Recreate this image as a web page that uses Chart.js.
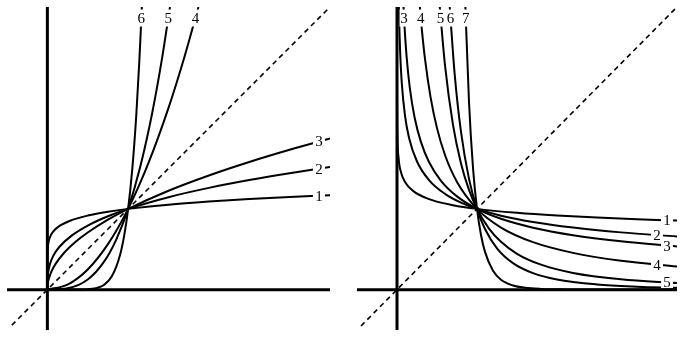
<!DOCTYPE html>
<html>
<head>
<meta charset="utf-8">
<script src="https://cdn.jsdelivr.net/npm/chart.js@4/dist/chart.umd.min.js"></script>
<style>
  body { margin: 0; background: #fff; }
  .panel { position: absolute; top: 0; width: 344px; height: 341px; }
  #left-wrap { left: 0; }
  #right-wrap { left: 344px; }
</style>
</head>
<body>
<div class="panel" id="left-wrap"><canvas id="leftChart" width="344" height="341"></canvas></div>
<div class="panel" id="right-wrap"><canvas id="rightChart" width="344" height="341"></canvas></div>
<script>
"use strict";

// ---- left panel: increasing curves through (1,1) ----
const left1X = [0, 0.0001, 0.002, 0.01, 0.03, 0.08, 0.15, 0.3, 0.5, 0.75, 1, 1.5, 2, 2.5, 3, 3.5];
const left1Y = [0, 0.316, 0.46, 0.562, 0.645, 0.729, 0.789, 0.86, 0.917, 0.965, 1, 1.052, 1.09, 1.121, 1.147, 1.17];
const left2X = [0, 0.001, 0.008, 0.03, 0.08, 0.15, 0.3, 0.5, 0.75, 1, 1.5, 2, 2.5, 3, 3.5];
const left2Y = [0, 0.1, 0.2, 0.311, 0.431, 0.531, 0.669, 0.794, 0.909, 1, 1.145, 1.26, 1.357, 1.442, 1.518];
const left3X = [0, 0.005, 0.02, 0.05, 0.1, 0.2, 0.35, 0.5, 0.75, 1, 1.5, 2, 2.5, 3, 3.5];
const left3Y = [0, 0.071, 0.141, 0.224, 0.316, 0.447, 0.592, 0.707, 0.866, 1, 1.225, 1.414, 1.581, 1.732, 1.871];
const left4X = [0, 0.25, 0.5, 0.75, 1, 1.25, 1.5, 1.7, 1.871];
const left4Y = [0, 0.063, 0.25, 0.563, 1, 1.563, 2.25, 2.89, 3.5];
const left5X = [0, 0.25, 0.5, 0.7, 0.85, 1, 1.15, 1.3, 1.42, 1.518];
const left5Y = [0, 0.016, 0.125, 0.343, 0.614, 1, 1.521, 2.197, 2.863, 3.5];
const left6X = [0, 0.3, 0.5, 0.6, 0.7, 0.8, 0.9, 0.95, 1, 1.05, 1.1, 1.14, 1.17];
const left6Y = [0, 0.0001, 0.004, 0.017, 0.058, 0.168, 0.43, 0.663, 1, 1.477, 2.144, 2.852, 3.5];

// ---- right panel: decreasing curves through (1,1) ----
const right1X = [0.000044, 0.0002, 0.001, 0.005, 0.02, 0.05, 0.1, 0.2, 0.4, 0.7, 1, 1.5, 2, 2.5, 3, 3.5];
const right1Y = [3.5, 2.9, 2.371, 1.939, 1.631, 1.454, 1.334, 1.223, 1.121, 1.046, 1, 0.951, 0.917, 0.892, 0.872, 0.855];
const right2X = [0.0233, 0.03, 0.04, 0.06, 0.1, 0.15, 0.25, 0.4, 0.6, 0.8, 1, 1.3, 1.7, 2.2, 2.8, 3.5];
const right2Y = [3.5, 3.218, 2.924, 2.554, 2.154, 1.882, 1.587, 1.357, 1.186, 1.077, 1, 0.916, 0.838, 0.769, 0.709, 0.659];
const right3X = [0.0816, 0.095, 0.12, 0.16, 0.22, 0.3, 0.4, 0.55, 0.75, 1, 1.3, 1.7, 2.2, 2.8, 3.5];
const right3Y = [3.5, 3.244, 2.887, 2.5, 2.132, 1.826, 1.581, 1.348, 1.155, 1, 0.877, 0.767, 0.674, 0.598, 0.535];
const right4X = [0.2857, 0.31, 0.35, 0.42, 0.5, 0.6, 0.75, 1, 1.3, 1.7, 2.2, 2.8, 3.5];
const right4Y = [3.5, 3.226, 2.857, 2.381, 2, 1.667, 1.333, 1, 0.769, 0.588, 0.455, 0.357, 0.286];
const right5X = [0.5345, 0.6, 0.7, 0.8, 0.9, 1, 1.15, 1.3, 1.5, 1.8, 2.2, 2.8, 3.5];
const right5Y = [3.5, 2.778, 2.041, 1.563, 1.235, 1, 0.756, 0.592, 0.444, 0.309, 0.207, 0.128, 0.082];
const right6X = [0.659, 0.72, 0.8, 0.9, 1, 1.1, 1.25, 1.45, 1.7, 2, 2.5, 3, 3.5];
const right6Y = [3.5, 2.679, 1.953, 1.372, 1, 0.751, 0.512, 0.328, 0.204, 0.125, 0.064, 0.037, 0.023];
const right7X = [0.855, 0.9, 0.95, 1, 1.05, 1.1, 1.2, 1.3, 1.45, 1.6, 1.8, 2.1, 2.5, 3.5];
const right7Y = [3.5, 2.323, 1.507, 1, 0.677, 0.467, 0.233, 0.123, 0.051, 0.023, 0.009, 0.003, 0.001, 0];

// y = x reference lines
const leftDiag = [-0.44, 3.5];
const rightDiag = [-0.45, 3.5];

// curve labels: text, x, y (data units)
const leftTopLabels = [["6", 1.163, 3.363], ["5", 1.498, 3.363], ["4", 1.834, 3.363]];
const leftSideLabels = [["1", 3.363, 1.164], ["2", 3.363, 1.498], ["3", 3.363, 1.834]];
const rightTopLabels = [["3", 0.0884, 3.363], ["4", 0.2974, 3.363], ["5", 0.5453, 3.363], ["6", 0.6675, 3.363], ["7", 0.8593, 3.363]];
const rightSideLabels = [["1", 3.375, 0.859], ["2", 3.25, 0.675], ["3", 3.375, 0.544], ["4", 3.25, 0.308], ["5", 3.375, 0.088]];

function zip(xs, ys) {
    return xs.map((x, i) => ({ x: x, y: ys[i] }));
}

function curve(xs, ys) {
    return {
        data: zip(xs, ys),
        borderColor: "#000",
        borderWidth: 2,
        pointRadius: 0,
        cubicInterpolationMode: "monotone",
        fill: false
    };
}

function axisLines() {
    return [{
        data: [{ x: -0.5, y: 0 }, { x: 3.5, y: 0 }],
        borderColor: "#000", borderWidth: 3, pointRadius: 0
    }, {
        data: [{ x: 0, y: -0.5 }, { x: 0, y: 3.5 }],
        borderColor: "#000", borderWidth: 3, pointRadius: 0
    }];
}

function diagLine(d) {
    return {
        data: zip(d, d),
        borderColor: "#000", borderWidth: 1.6, borderDash: [5, 4], pointRadius: 0
    };
}

// draws labels with a white box so the curve looks broken behind them
const labelPlugin = {
    id: "curveLabels",
    afterDatasetsDraw(chart, args, opts) {
        const c = chart.ctx;
        const xs = chart.scales.x, ys = chart.scales.y;
        c.save();
        c.font = "15px 'Liberation Serif', 'Times New Roman', serif";
        c.textAlign = "center";
        c.textBaseline = "middle";
        opts.groups.forEach(g => {
            g.items.forEach(([t, x, y]) => {
                const px = xs.getPixelForValue(x);
                const py = ys.getPixelForValue(y);
                c.fillStyle = "#fff";
                c.fillRect(px - g.w / 2, py - g.h / 2, g.w, g.h);
                c.fillStyle = "#000";
                c.fillText(t, px, py + 1);
            });
        });
        c.restore();
    }
};

function makeChart(id, curves, diag, padding, topLabels, sideLabels) {
    return new Chart(document.getElementById(id), {
        type: "line",
        data: { datasets: [...axisLines(), diagLine(diag), ...curves] },
        options: {
            responsive: false,
            animation: false,
            layout: { padding: padding },
            plugins: {
                legend: { display: false },
                tooltip: { enabled: false },
                curveLabels: {
                    groups: [
                        { items: topLabels, w: 9, h: 17 },
                        { items: sideLabels, w: 12, h: 11 }
                    ]
                }
            },
            scales: {
                x: { type: "linear", min: -0.5, max: 3.5, display: false },
                y: { type: "linear", min: -0.5, max: 3.5, display: false }
            }
        },
        plugins: [labelPlugin]
    });
}

makeChart("leftChart", [
    curve(left1X, left1Y), curve(left2X, left2Y), curve(left3X, left3Y),
    curve(left4X, left4Y), curve(left5X, left5Y), curve(left6X, left6Y)
], leftDiag, { left: 7, right: 14, top: 7, bottom: 11 }, leftTopLabels, leftSideLabels);

makeChart("rightChart", [
    curve(right1X, right1Y), curve(right2X, right2Y), curve(right3X, right3Y),
    curve(right4X, right4Y), curve(right5X, right5Y), curve(right6X, right6Y),
    curve(right7X, right7Y)
], rightDiag, { left: 13, right: 11, top: 7, bottom: 11 }, rightTopLabels, rightSideLabels);
</script>
</body>
</html>
